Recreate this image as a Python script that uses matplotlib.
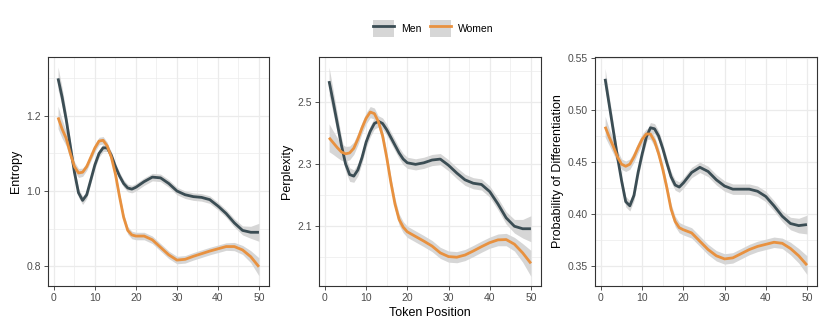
import numpy as np
import matplotlib.pyplot as plt
from matplotlib.patches import Patch
from matplotlib.lines import Line2D
from matplotlib.ticker import MultipleLocator

plt.rcParams['font.family'] = ['Liberation Sans', 'DejaVu Sans']

# --- データ ---
positions = [1, 2, 3, 4, 5, 6, 7, 8, 9, 10, 11, 12, 13, 14, 15, 16, 17, 18, 19, 20,
             22, 24, 26, 28, 30, 32, 34, 36, 38, 40, 42, 44, 46, 48, 50]

entropy_men = [1.300, 1.250, 1.190, 1.120, 1.050, 0.995, 0.975, 0.990, 1.030, 1.070,
               1.100, 1.115, 1.115, 1.095, 1.065, 1.040, 1.020, 1.008, 1.005, 1.010,
               1.025, 1.037, 1.035, 1.020, 1.000, 0.990, 0.985, 0.983, 0.977, 0.960,
               0.940, 0.915, 0.895, 0.890, 0.890]
entropy_women = [1.196, 1.165, 1.140, 1.100, 1.065, 1.048, 1.050, 1.065, 1.090, 1.115,
                 1.133, 1.135, 1.120, 1.090, 1.045, 0.985, 0.930, 0.895, 0.883, 0.880,
                 0.880, 0.870, 0.850, 0.830, 0.816, 0.818, 0.826, 0.833, 0.840, 0.846,
                 0.852, 0.852, 0.843, 0.825, 0.798]
entropy_se = [0.030, 0.025, 0.020, 0.016, 0.013, 0.012, 0.011, 0.010, 0.010, 0.010,
              0.010, 0.010, 0.010, 0.010, 0.010, 0.010, 0.010, 0.010, 0.010, 0.010,
              0.010, 0.010, 0.010, 0.010, 0.010, 0.010, 0.010, 0.010, 0.010, 0.010,
              0.010, 0.011, 0.012, 0.016, 0.024]

perplexity_men = [2.567, 2.500, 2.430, 2.360, 2.300, 2.265, 2.260, 2.280, 2.320, 2.370,
                  2.405, 2.430, 2.437, 2.430, 2.410, 2.385, 2.360, 2.335, 2.315, 2.303,
                  2.298, 2.303, 2.312, 2.315, 2.295, 2.270, 2.248, 2.237, 2.233, 2.210,
                  2.170, 2.125, 2.098, 2.090, 2.090]
perplexity_women = [2.384, 2.368, 2.352, 2.338, 2.332, 2.335, 2.350, 2.380, 2.416, 2.447,
                    2.467, 2.462, 2.435, 2.390, 2.320, 2.240, 2.170, 2.120, 2.095, 2.080,
                    2.065, 2.050, 2.034, 2.012, 2.000, 1.998, 2.005, 2.018, 2.032, 2.045,
                    2.054, 2.055, 2.040, 2.012, 1.978]
perplexity_se = [0.045, 0.038, 0.032, 0.027, 0.024, 0.022, 0.020, 0.019, 0.018, 0.018,
                 0.018, 0.018, 0.018, 0.018, 0.018, 0.018, 0.018, 0.018, 0.018, 0.018,
                 0.018, 0.018, 0.018, 0.018, 0.018, 0.018, 0.018, 0.018, 0.018, 0.018,
                 0.019, 0.020, 0.022, 0.030, 0.042]

pod_men = [0.530, 0.505, 0.480, 0.455, 0.432, 0.412, 0.408, 0.418, 0.440, 0.458,
           0.474, 0.483, 0.482, 0.475, 0.463, 0.449, 0.436, 0.428, 0.426, 0.430,
           0.440, 0.445, 0.441, 0.433, 0.427, 0.424, 0.424, 0.424, 0.422, 0.417,
           0.408, 0.398, 0.391, 0.389, 0.390]
pod_women = [0.484, 0.474, 0.465, 0.455, 0.448, 0.446, 0.448, 0.455, 0.464, 0.472,
             0.477, 0.477, 0.470, 0.458, 0.443, 0.425, 0.405, 0.393, 0.387, 0.385,
             0.382, 0.374, 0.366, 0.360, 0.357, 0.358, 0.362, 0.366, 0.369, 0.371,
             0.373, 0.372, 0.367, 0.360, 0.351]
pod_se = [0.010, 0.008, 0.007, 0.006, 0.005, 0.005, 0.005, 0.005, 0.005, 0.005,
          0.005, 0.005, 0.005, 0.005, 0.005, 0.005, 0.005, 0.005, 0.005, 0.005,
          0.005, 0.005, 0.005, 0.005, 0.005, 0.005, 0.005, 0.005, 0.005, 0.005,
          0.005, 0.005, 0.006, 0.007, 0.009]

groups = ['Men', 'Women']

# --- スタイル ---
MEN_COLOR = '#3b4d54'
WOMEN_COLOR = '#e8913f'
RIBBON = '#d6d6d6'
GRID = '#ebebeb'
BORDER = '#333333'
TICK_TEXT = '#4d4d4d'

panels = [
    dict(men=entropy_men, women=entropy_women, se=entropy_se, ylabel='Entropy',
         ylim=(0.747, 1.357), major=0.2, minor=0.1, fmt='{:.1f}', rect=[0.0578, 0.1386, 0.2663, 0.6898]),
    dict(men=perplexity_men, women=perplexity_women, se=perplexity_se, ylabel='Perplexity',
         ylim=(1.905, 2.645), major=0.2, minor=0.1, fmt='{:.1f}', rect=[0.3843, 0.1386, 0.2675, 0.6898],
         ytick0=2.1),
    dict(men=pod_men, women=pod_women, se=pod_se, ylabel='Probability of Differentiation',
         ylim=(0.331, 0.551), major=0.05, minor=0.025, fmt='{:.2f}', rect=[0.7169, 0.1386, 0.2675, 0.6898]),
]

fig = plt.figure(figsize=(8.3, 3.32), dpi=100)
x = np.array(positions)

for i, p in enumerate(panels):
    ax = fig.add_axes(p['rect'])
    for vals, col in [(p['men'], MEN_COLOR), (p['women'], WOMEN_COLOR)]:
        v = np.array(vals)
        se = np.array(p['se'])
        ax.fill_between(x, v - se, v + se, color=RIBBON, lw=0, zorder=2)
        ax.plot(x, v, color=col, lw=2.0, zorder=3, solid_capstyle='butt',
                solid_joinstyle='round')

    ax.set_xlim(1 - 2.45, 50 + 2.45)
    ax.set_ylim(*p['ylim'])
    ax.set_xticks([0, 10, 20, 30, 40, 50])
    ax.xaxis.set_minor_locator(MultipleLocator(5))
    lo, hi = p['ylim']
    start = p.get('ytick0', np.ceil(lo / p['major'] - 1e-9) * p['major'])
    yt = np.arange(start, hi + 1e-9, p['major'])
    ax.set_yticks(yt)
    ax.set_yticklabels([p['fmt'].format(t) for t in yt])
    mstart = start - p['minor']
    ymin = np.arange(mstart, hi + 1e-9, p['minor'])
    ax.set_yticks([t for t in ymin if lo <= t <= hi and not np.any(np.isclose(t, yt))], minor=True)

    ax.grid(True, which='major', color=GRID, lw=0.9, zorder=0)
    ax.grid(True, which='minor', color=GRID, lw=0.5, zorder=0)
    ax.set_axisbelow(True)
    ax.tick_params(which='major', length=3, width=0.6, color=BORDER, labelsize=7.5,
                   labelcolor=TICK_TEXT, pad=2)
    ax.tick_params(which='minor', length=0)
    for s in ax.spines.values():
        s.set_color(BORDER)
        s.set_linewidth(0.8)
    ax.set_ylabel(p['ylabel'], fontsize=9, labelpad=3)
    if i == 1:
        ax.set_xlabel('Token Position', fontsize=9, labelpad=3)

handles = [
    (Patch(facecolor=RIBBON, edgecolor='none'), Line2D([], [], color=MEN_COLOR, lw=2)),
    (Patch(facecolor=RIBBON, edgecolor='none'), Line2D([], [], color=WOMEN_COLOR, lw=2)),
]
fig.legend(handles, groups, loc='center', bbox_to_anchor=(0.522, 0.915), ncol=2,
           frameon=False, fontsize=7.5, handlelength=2.0, handleheight=2.1,
           handletextpad=0.7, columnspacing=0.8, borderaxespad=0)

fig.savefig('out.png', dpi=100)
